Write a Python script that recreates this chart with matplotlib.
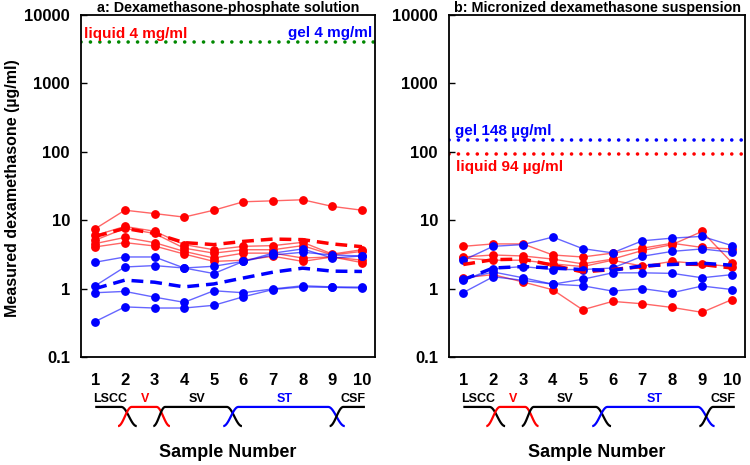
import numpy as np
import matplotlib
matplotlib.use("Agg")
import matplotlib.pyplot as plt

plt.rcParams['font.family'] = ['Liberation Sans', 'DejaVu Sans']
plt.rcParams['font.weight'] = 'bold'

samples = list(range(1, 11))
tick_labels = ["1", "2", "3", "4", "5", "6", "7", "8", "9", "10"]
y_ticks = [0.1, 1, 10, 100, 1000, 10000]
y_tick_labels = ["0.1", "1", "10", "100", "1000", "10000"]

# Panel a: Dexamethasone-phosphate solution
red_a = [
    [7.5, 14, 12.5, 11.1, 14, 18.6, 19.2, 19.9, 15.9, 14],
    [6.0, 8.1, 6.9, 4.4, 3.7, 4.15, 4.25, 4.75, 3.2, 3.7],
    [5.1, 7.6, 6.4, 3.9, 3.3, 3.7, 3.7, 4.25, 3.1, 3.5],
    [4.55, 5.6, 4.7, 3.5, 2.8, 3.3, 3.3, 2.8, 2.9, 2.6],
    [4.07, 4.7, 4.2, 3.2, 2.5, 2.6, 2.97, 2.5, 2.9, 2.4],
]
red_a_mean = [5.8, 7.6, 6.4, 4.7, 4.4, 4.9, 5.3, 5.2, 4.5, 4.1]
blue_a = [
    [2.43, 2.9, 2.9, 2.0, 1.66, 2.5, 3.3, 3.8, 2.8, 3.0],
    [1.1, 2.07, 2.17, 2.0, 2.12, 2.5, 3.1, 3.4, 3.1, 3.0],
    [0.87, 0.91, 0.75, 0.63, 0.93, 0.87, 0.99, 1.1, 1.06, 1.05],
    [0.33, 0.54, 0.52, 0.52, 0.57, 0.76, 0.97, 1.06, 1.04, 1.02],
]
blue_a_mean = [1.0, 1.33, 1.24, 1.06, 1.17, 1.43, 1.74, 1.99, 1.8, 1.78]
applied_a = 4000

# Panel b: Micronized dexamethasone suspension
red_b = [
    [4.15, 4.5, 4.5, 3.1, 2.9, 3.3, 3.9, 4.6, 4.0, 3.8],
    [2.9, 3.1, 3.0, 2.7, 2.3, 2.7, 3.6, 4.4, 6.85, 2.4],
    [2.8, 2.6, 2.6, 2.3, 2.1, 2.6, 2.13, 2.5, 2.3, 2.1],
    [1.44, 1.6, 1.25, 0.96, 0.49, 0.65, 0.6, 0.53, 0.45, 0.69],
]
red_b_mean = [2.25, 2.65, 2.7, 2.2, 1.75, 1.9, 2.1, 2.3, 2.25, 2.0]
blue_b = [
    [2.6, 4.15, 4.4, 5.67, 3.84, 3.33, 5.0, 5.47, 5.8, 4.25],
    [1.32, 1.95, 2.1, 1.9, 1.9, 2.0, 2.97, 3.5, 3.8, 3.4],
    [1.37, 1.75, 1.44, 1.16, 1.37, 1.7, 1.7, 1.67, 1.44, 1.6],
    [0.875, 1.49, 1.32, 1.16, 1.1, 0.92, 1.0, 0.87, 1.09, 0.97],
]
blue_b_mean = [1.35, 2.0, 2.1, 2.0, 1.9, 1.85, 2.15, 2.25, 2.35, 2.2]
gel_b = 148
liquid_b = 94

RED = '#ff0000'
BLUE = '#0000ff'

fig = plt.figure(figsize=(7.5, 4.65), dpi=100)
axA = fig.add_axes([81/750, 108/465, 294/750, 342/465])
axB = fig.add_axes([449/750, 108/465, 296/750, 342/465])


def style(ax, title):
    ax.set_yscale('log')
    ax.set_ylim(0.1, 10000)
    ax.set_xlim(0.52, 10.44)
    ax.set_yticks(y_ticks)
    ax.set_yticklabels(y_tick_labels)
    ax.yaxis.set_minor_locator(matplotlib.ticker.NullLocator())
    ax.set_xticks(samples)
    ax.set_xticklabels(tick_labels)
    ax.tick_params(axis='y', direction='in', length=4, width=1, pad=8,
                   labelsize=12)
    ax.tick_params(axis='x', length=0, pad=11.5, labelsize=12)
    for lab in ax.get_xticklabels() + ax.get_yticklabels():
        lab.set_fontweight('bold')
    for sp in ax.spines.values():
        sp.set_linewidth(1.3)
    ax.set_title(title, fontsize=10.3, fontweight='bold', pad=2)
    ax.text(0.5, -0.278, "Sample Number", transform=ax.transAxes,
            ha='center', va='center', fontsize=13, fontweight='bold')


def plot_group(ax, lines, mean, color):
    for ys in lines:
        ax.plot(samples, ys, '-', color=color, lw=1.0, alpha=0.6, zorder=2)
        ax.plot(samples, ys, 'o', color=color, ms=5.3, mec=color, zorder=3)
    ax.plot(samples, mean, color=color, lw=2.5, dashes=(3.4, 2.0), zorder=4)


def scurve(x0, x1, y0, y1, n=40):
    t = np.linspace(0, 1, n)
    xs = x0 + (x1 - x0) * t
    ys = y0 + (y1 - y0) * (1 - np.cos(np.pi * t)) / 2
    return xs, ys


def schematic(ax):
    tr = ax.get_xaxis_transform()
    hi, lo = -0.146, -0.202
    segs = [
        (None, (1.0, 1.88), (1.88, 2.40), 'black'),
        ((1.77, 2.23), (2.23, 3.07), (3.07, 3.52), RED),
        ((2.96, 3.36), (3.36, 5.44), (5.44, 5.95), 'black'),
        ((5.32, 5.83), (5.83, 8.86), (8.86, 9.42), BLUE),
        ((8.91, 9.37), (9.37, 10.1), None, 'black'),
    ]
    for rise, level, fall, c in segs:
        xs, ys = [], []
        if rise is not None:
            a, b = scurve(rise[0], rise[1], lo, hi)
            xs += list(a); ys += list(b)
        xs += [level[0], level[1]]; ys += [hi, hi]
        if fall is not None:
            a, b = scurve(fall[0], fall[1], hi, lo)
            xs += list(a); ys += list(b)
        ax.plot(xs, ys, color=c, lw=1.6, transform=tr, clip_on=False,
                solid_capstyle='butt')
    labels = [("LSCC", 1.5, 'black'), ("V", 2.68, RED), ("SV", 4.42, 'black'),
              ("ST", 7.4, BLUE), ("CSF", 9.7, 'black')]
    for txt, x, c in labels:
        ax.text(x, -0.123, txt, transform=tr, ha='center', va='center',
                fontsize=9, fontweight='bold', color=c, clip_on=False)


style(axA, "a: Dexamethasone-phosphate solution")
style(axB, "b: Micronized dexamethasone suspension")

# Panel a
axA.axhline(applied_a, color='#008800', lw=2.6, dashes=(0.01, 2.6),
            dash_capstyle='round', zorder=1)
axA.text(0.01, (357-34)/342, "liquid 4 mg/ml", transform=axA.transAxes,
         color=RED, fontsize=11, fontweight='bold', ha='left', va='center')
axA.text(0.99, (357-33)/342, "gel 4 mg/ml", transform=axA.transAxes,
         color=BLUE, fontsize=11, fontweight='bold', ha='right', va='center')
plot_group(axA, red_a, red_a_mean, RED)
plot_group(axA, blue_a, blue_a_mean, BLUE)

# Panel b
axB.axhline(gel_b, color=BLUE, lw=2.6, dashes=(0.01, 2.6),
            dash_capstyle='round', zorder=1)
axB.axhline(liquid_b, color=RED, lw=2.6, dashes=(0.01, 2.6),
            dash_capstyle='round', zorder=1)
axB.text(0.02, (357-131)/342, "gel 148 \u00b5g/ml", transform=axB.transAxes,
         color=BLUE, fontsize=11, fontweight='bold', ha='left', va='center')
axB.text(0.025, (357-167.5)/342, "liquid 94 \u00b5g/ml", transform=axB.transAxes,
         color=RED, fontsize=11, fontweight='bold', ha='left', va='center')
plot_group(axB, red_b, red_b_mean, RED)
plot_group(axB, blue_b, blue_b_mean, BLUE)

schematic(axA)
schematic(axB)

fig.text(13/750, 1 - 188/465, "Measured dexamethasone (\u00b5g/ml)",
         rotation=90, ha='center', va='center', fontsize=11.5, fontweight='bold')

fig.savefig("out.png", dpi=100)
